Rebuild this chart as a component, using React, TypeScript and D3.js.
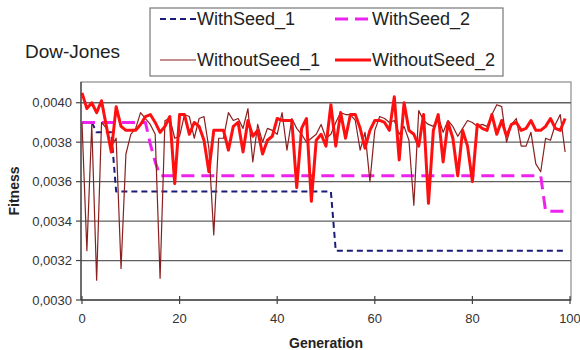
import React from 'react';
import * as d3 from 'd3';

const generations = d3.range(0, 100);

const withSeed1: number[] = [
  0.0039, 0.0039, 0.0039, 0.00385, 0.00385, 0.00385, 0.00385, 0.00355, 0.00355, 0.00355,
  0.00355, 0.00355, 0.00355, 0.00355, 0.00355, 0.00355, 0.00355, 0.00355, 0.00355, 0.00355,
  0.00355, 0.00355, 0.00355, 0.00355, 0.00355, 0.00355, 0.00355, 0.00355, 0.00355, 0.00355,
  0.00355, 0.00355, 0.00355, 0.00355, 0.00355, 0.00355, 0.00355, 0.00355, 0.00355, 0.00355,
  0.00355, 0.00355, 0.00355, 0.00355, 0.00355, 0.00355, 0.00355, 0.00355, 0.00355, 0.00355,
  0.00355, 0.00355, 0.00325, 0.00325, 0.00325, 0.00325, 0.00325, 0.00325, 0.00325, 0.00325,
  0.00325, 0.00325, 0.00325, 0.00325, 0.00325, 0.00325, 0.00325, 0.00325, 0.00325, 0.00325,
  0.00325, 0.00325, 0.00325, 0.00325, 0.00325, 0.00325, 0.00325, 0.00325, 0.00325, 0.00325,
  0.00325, 0.00325, 0.00325, 0.00325, 0.00325, 0.00325, 0.00325, 0.00325, 0.00325, 0.00325,
  0.00325, 0.00325, 0.00325, 0.00325, 0.00325, 0.00325, 0.00325, 0.00325, 0.00325, 0.00325,
];

const withSeed2: number[] = [
  0.0039, 0.0039, 0.0039, 0.0039, 0.0039, 0.0039, 0.0039, 0.0039, 0.0039, 0.0039,
  0.0039, 0.0039, 0.0039, 0.0039, 0.00379, 0.0037, 0.00363, 0.00363, 0.00363, 0.00363,
  0.00363, 0.00363, 0.00363, 0.00363, 0.00363, 0.00363, 0.00363, 0.00363, 0.00363, 0.00363,
  0.00363, 0.00363, 0.00363, 0.00363, 0.00363, 0.00363, 0.00363, 0.00363, 0.00363, 0.00363,
  0.00363, 0.00363, 0.00363, 0.00363, 0.00363, 0.00363, 0.00363, 0.00363, 0.00363, 0.00363,
  0.00363, 0.00363, 0.00363, 0.00363, 0.00363, 0.00363, 0.00363, 0.00363, 0.00363, 0.00363,
  0.00363, 0.00363, 0.00363, 0.00363, 0.00363, 0.00363, 0.00363, 0.00363, 0.00363, 0.00363,
  0.00363, 0.00363, 0.00363, 0.00363, 0.00363, 0.00363, 0.00363, 0.00363, 0.00363, 0.00363,
  0.00363, 0.00363, 0.00363, 0.00363, 0.00363, 0.00363, 0.00363, 0.00363, 0.00363, 0.00363,
  0.00363, 0.00363, 0.00363, 0.00363, 0.00363, 0.00345, 0.00345, 0.00345, 0.00345, 0.00345,
];

const withoutSeed1: number[] = [
  0.0039, 0.00325, 0.00389, 0.0031, 0.0039, 0.00387, 0.00378, 0.00382, 0.00316, 0.00374,
  0.00384, 0.00387, 0.00395, 0.00392, 0.00389, 0.00384, 0.00311, 0.00391, 0.00392, 0.00382,
  0.00383, 0.00394, 0.00393, 0.00382, 0.00392, 0.00393, 0.00377, 0.00333, 0.00382, 0.00382,
  0.00395, 0.00391, 0.00392, 0.00387, 0.00397, 0.0037, 0.00389, 0.0038, 0.00387, 0.00386,
  0.00384, 0.00395, 0.00376, 0.00392, 0.00387, 0.00384, 0.0038, 0.00382, 0.00384, 0.00389,
  0.00382, 0.00384, 0.0039, 0.00395, 0.00394, 0.00394, 0.00391, 0.00376, 0.00385, 0.0036,
  0.00386, 0.00393, 0.00392, 0.0039, 0.00391, 0.00384, 0.00388, 0.00381, 0.00348, 0.00396,
  0.00391, 0.00389, 0.00388, 0.00393, 0.00385, 0.00391, 0.00388, 0.00383, 0.00387, 0.00391,
  0.0039, 0.00388, 0.00389, 0.00388, 0.00394, 0.00399, 0.00398, 0.0038, 0.00389, 0.00392,
  0.00378, 0.00378, 0.00385, 0.00369, 0.00365, 0.00382, 0.00381, 0.00389, 0.00394, 0.00375,
];

const withoutSeed2: number[] = [
  0.00405, 0.00397, 0.004, 0.00395, 0.00401, 0.00388, 0.00375, 0.00398, 0.00388, 0.00386,
  0.00386, 0.00386, 0.00389, 0.00393, 0.00394, 0.0039, 0.00385, 0.00388, 0.00393, 0.00359,
  0.00394, 0.00394, 0.00384, 0.0039, 0.00388, 0.00381, 0.00365, 0.00386, 0.00386, 0.00386,
  0.00376, 0.00388, 0.0039, 0.00375, 0.00391, 0.00383, 0.00386, 0.00374, 0.00381, 0.00383,
  0.00392, 0.00391, 0.00391, 0.00391, 0.00357, 0.00387, 0.00392, 0.0035, 0.00381, 0.00384,
  0.00378, 0.00399, 0.00378, 0.00395, 0.00382, 0.00394, 0.00394, 0.00387, 0.00377, 0.00386,
  0.00391, 0.00391, 0.0039, 0.00386, 0.00403, 0.00371, 0.004, 0.00386, 0.00384, 0.00378,
  0.00394, 0.00349, 0.00386, 0.00394, 0.0037, 0.0039, 0.00382, 0.00363, 0.00386, 0.00378,
  0.0036, 0.00389, 0.00387, 0.00386, 0.00394, 0.00384, 0.00391, 0.00383, 0.00389, 0.0039,
  0.00386, 0.00387, 0.00391, 0.00386, 0.00386, 0.00388, 0.00392, 0.00387, 0.00386, 0.00392,
];

const yTicks = [0.003, 0.0032, 0.0034, 0.0036, 0.0038, 0.004];
const xTicks = [0, 20, 40, 60, 80, 100];

const series = [
  { name: 'WithSeed_1', values: withSeed1, color: '#1c1c78', width: 2, dash: '6,4' },
  { name: 'WithSeed_2', values: withSeed2, color: '#ee22ee', width: 3, dash: '13,7' },
  { name: 'WithoutSeed_1', values: withoutSeed1, color: '#8a1f1f', width: 1.2, dash: null },
  { name: 'WithoutSeed_2', values: withoutSeed2, color: '#ff1010', width: 3, dash: null },
];

const font = '"Liberation Sans", Arial, Helvetica, sans-serif';

export default function App() {
  const width = 580;
  const height = 350;
  const plot = { left: 81, right: 571, top: 82, bottom: 300 };

  const x = d3.scaleLinear().domain([0, 100]).range([82, 570]);
  const y = d3.scaleLinear().domain([0.003, 0.0041]).range([plot.bottom, 83]);

  const fmt = (v: number) => d3.format('.4f')(v).replace('.', ',');

  const line = d3
    .line<number>()
    .x((_, i) => x(generations[i]))
    .y(d => y(d));

  // legend layout: two columns, two rows
  const legendBox = { x: 150, y: 8, w: 353, h: 68 };
  const legendPos = [
    { lx: 160, ly: 19 },
    { lx: 335, ly: 19 },
    { lx: 160, ly: 60 },
    { lx: 335, ly: 60 },
  ];

  return (
    <svg
      width={width}
      height={height}
      style={{ position: 'absolute', left: 0, top: 0, background: '#fff', fontFamily: font }}
    >
      <rect x={0} y={0} width={width} height={height} fill="#fff" />

      {/* plot area */}
      <rect
        x={plot.left}
        y={plot.top}
        width={plot.right - plot.left}
        height={plot.bottom - plot.top}
        fill="#fff"
        stroke="#8c8c8c"
        strokeWidth={1.2}
      />

      {/* gridlines */}
      {yTicks.slice(1).map(t => (
        <line key={t} x1={plot.left} x2={plot.right} y1={y(t)} y2={y(t)} stroke="#606060" strokeWidth={1.3} />
      ))}

      {/* series */}
      {series.map(s => (
        <path
          key={s.name}
          d={line(s.values) || ''}
          fill="none"
          stroke={s.color}
          strokeWidth={s.width}
          strokeDasharray={s.dash || undefined}
          strokeLinejoin="round"
        />
      ))}

      {/* axes */}
      <line x1={plot.left} x2={plot.left} y1={plot.top} y2={plot.bottom} stroke="#444" strokeWidth={1.3} />
      <line x1={plot.left} x2={plot.right} y1={plot.bottom} y2={plot.bottom} stroke="#444" strokeWidth={1.3} />

      {yTicks.map(t => (
        <g key={t}>
          <line x1={plot.left - 5} x2={plot.left} y1={y(t)} y2={y(t)} stroke="#444" strokeWidth={1.2} />
          <text x={72} y={y(t)} dy="0.35em" textAnchor="end" fontSize={13} fill="#333">
            {fmt(t)}
          </text>
        </g>
      ))}

      {xTicks.map(t => (
        <g key={t}>
          <line x1={x(t)} x2={x(t)} y1={plot.bottom - 4} y2={plot.bottom + 4} stroke="#444" strokeWidth={1.2} />
          <text x={x(t)} y={plot.bottom + 23} textAnchor="middle" fontSize={13} fill="#333">
            {t}
          </text>
        </g>
      ))}

      <text x={326} y={348} textAnchor="middle" fontSize={14} fontWeight="bold" fill="#222">
        Generation
      </text>
      <text
        transform={`translate(19,${(plot.top + plot.bottom) / 2}) rotate(-90)`}
        textAnchor="middle"
        fontSize={14}
        fontWeight="bold"
        fill="#222"
      >
        Fitness
      </text>

      {/* title */}
      <text x={25} y={58} fontSize={19} fill="#222">
        Dow-Jones
      </text>

      {/* legend */}
      <rect
        x={legendBox.x}
        y={legendBox.y}
        width={legendBox.w}
        height={legendBox.h}
        fill="#fff"
        stroke="#777"
        strokeWidth={1.2}
      />
      {series.map((s, i) => {
        const p = legendPos[i];
        return (
          <g key={s.name}>
            <line
              x1={p.lx}
              x2={p.lx + 36}
              y1={p.ly}
              y2={p.ly}
              stroke={s.color}
              strokeWidth={s.width}
              strokeDasharray={s.dash || undefined}
            />
            <text x={p.lx + 37} y={p.ly} dy="0.35em" fontSize={18} fill="#222">
              {s.name}
            </text>
          </g>
        );
      })}
    </svg>
  );
}
